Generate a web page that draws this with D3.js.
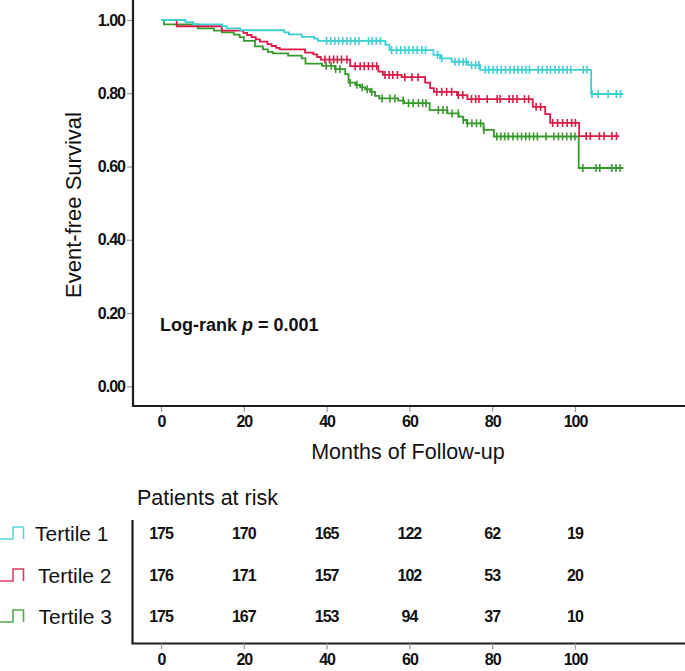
<!DOCTYPE html>
<html><head><meta charset="utf-8">
<script src="https://cdn.jsdelivr.net/npm/d3@7"></script>
<style>
body{margin:0;background:#fff;}
svg{display:block;font-family:"Liberation Sans",Arial,Helvetica,sans-serif;}
</style></head><body>
<svg id="c" width="685" height="671"></svg>
<script>
// ---------- data ----------
const seriesNames = ["Tertile 1", "Tertile 2", "Tertile 3"];
const seriesColors = ["#3ccfd4", "#dc1846", "#379a2c"];
const monthTicks = [0, 20, 40, 60, 80, 100];
const survivalTicks = [0, 0.2, 0.4, 0.6, 0.8, 1.0];

// [month, survival] step points
const tertile1Steps = [[0,1],[5.9,0.994],[7.8,0.988],[14.8,0.983],[15.9,0.977],[19.1,0.972],[29.8,0.966],[30.9,0.961],[34.0,0.954],[37.0,0.949],[37.9,0.943],[54.2,0.932],[55.2,0.918],[65.8,0.905],[67.4,0.895],[70.2,0.886],[74.2,0.877],[77.1,0.864],[103.9,0.798]];
const tertile2Steps = [[0,1],[3.8,0.983],[14.7,0.971],[19.9,0.965],[20.8,0.959],[21.9,0.953],[22.9,0.947],[23.9,0.941],[25.7,0.934],[26.7,0.929],[27.8,0.924],[28.7,0.920],[34.8,0.911],[36.8,0.906],[37.7,0.899],[38.6,0.892],[45.7,0.874],[52.5,0.859],[53.6,0.850],[58.1,0.844],[63.8,0.829],[65.0,0.814],[65.9,0.804],[71.5,0.795],[74.0,0.784],[89.8,0.763],[92.8,0.743],[94.0,0.719],[101.0,0.683]];
const tertile3Steps = [[0,1],[0.7,0.988],[8.9,0.977],[12.8,0.971],[14.7,0.966],[17.6,0.960],[19.0,0.953],[20.0,0.943],[22.7,0.928],[24.6,0.920],[25.8,0.913],[27.0,0.909],[30.7,0.903],[34.0,0.895],[34.9,0.881],[38.9,0.875],[42.0,0.866],[44.5,0.852],[45.3,0.829],[46.9,0.823],[48.1,0.816],[49.3,0.811],[50.5,0.804],[51.7,0.793],[52.7,0.786],[57.3,0.780],[58.7,0.773],[64.9,0.754],[69.2,0.745],[71.9,0.736],[73.0,0.727],[73.8,0.718],[77.9,0.700],[80.4,0.682],[100.9,0.596]];
const followUpEnd = [111.7, 110.7, 111.7];

// censored observations (months)
const tertile1Censored = [40.0,41.0,42.0,42.9,43.9,44.9,45.8,46.9,47.8,50.1,51.0,52.0,53.0,55.7,56.9,57.9,58.9,59.9,60.9,61.9,63.0,63.9,66.8,67.8,71.0,72.0,73.0,73.7,75.0,76.0,76.8,78.3,79.2,80.2,81.2,82.2,83.2,84.3,85.3,86.2,87.2,88.1,89.0,91.1,92.1,93.2,94.1,95.2,96.1,97.1,98.1,99.0,102.0,102.9,104.1,105.6,108.0,110.0,111.0];
const tertile2Censored = [39.6,40.7,41.7,42.6,43.6,44.9,46.9,48.1,49.1,50.1,51.1,52.1,54.1,55.1,56.0,57.1,58.9,60.6,62.1,66.6,67.8,69.0,70.2,71.8,72.9,75.0,76.0,76.8,78.8,81.2,81.9,84.1,85.0,86.0,87.8,88.8,90.6,91.7,94.6,95.8,97.0,98.1,99.2,100.1,102.7,103.7,105.9,107.0,108.9,110.0];
const tertile3Censored = [39.9,41.1,42.2,43.2,45.7,47.3,48.6,49.8,50.9,53.4,55.3,56.5,58.5,59.8,60.9,62.2,63.2,64.0,67.0,68.1,69.1,70.3,71.8,73.0,74.0,75.1,76.2,77.2,78.0,81.1,82.1,83.0,83.9,85.0,86.1,87.1,88.1,89.0,90.0,90.9,93.0,94.9,96.0,97.0,98.0,99.0,100.0,101.9,105.1,106.0,108.9,109.9,110.9];

const atRiskTertile1 = [175, 170, 165, 122, 62, 19];
const atRiskTertile2 = [176, 171, 157, 102, 53, 20];
const atRiskTertile3 = [175, 167, 153, 94, 37, 10];

const yAxisTitle = "Event-free Survival";
const xAxisTitle = "Months of Follow-up";
const riskTitle = "Patients at risk";

// ---------- drawing ----------
const svg = d3.select("#c");
const x = d3.scaleLinear().domain([0, 100]).range([161, 575]);
const y = d3.scaleLinear().domain([0, 1]).range([386.3, 20]);
const axisColor = "#1e1e1e";
const tickColor = "#9a9a9a";
const numFont = 16, numSpacing = "-1";

// y axis
const gy = svg.append("g").attr("transform", "translate(133,0)")
  .call(d3.axisLeft(y).tickValues(survivalTicks).tickFormat(d3.format(".2f")).tickSize(6).tickSizeOuter(0));
gy.select(".domain").remove();
gy.selectAll(".tick line").attr("stroke", tickColor).attr("stroke-width", 1.2);
gy.selectAll(".tick text").attr("x", -8).attr("font-size", numFont).attr("font-weight", "bold")
  .attr("fill", "#111").attr("font-family", "'Liberation Sans',Arial,sans-serif").attr("letter-spacing", numSpacing);

// x axis
const gx = svg.append("g").attr("transform", "translate(0,406)")
  .call(d3.axisBottom(x).tickValues(monthTicks).tickSize(6).tickSizeOuter(0));
gx.select(".domain").remove();
gx.selectAll(".tick line").attr("stroke", tickColor).attr("stroke-width", 1.2);
gx.selectAll(".tick text").attr("y", 10).attr("font-size", numFont).attr("font-weight", "bold")
  .attr("fill", "#111").attr("font-family", "'Liberation Sans',Arial,sans-serif").attr("letter-spacing", numSpacing);

// axis lines
svg.append("path").attr("d", "M133,0V406H685").attr("fill", "none")
  .attr("stroke", axisColor).attr("stroke-width", 2.2);

// titles
svg.append("text").attr("transform", "translate(81,205) rotate(-90)").attr("text-anchor", "middle")
  .attr("font-size", 22).attr("fill", "#111").text(yAxisTitle);
svg.append("text").attr("x", 408).attr("y", 459).attr("text-anchor", "middle")
  .attr("font-size", 21.5).attr("fill", "#111").text(xAxisTitle);

// log-rank text
const lr = svg.append("text").attr("x", 160).attr("y", 331).attr("font-size", 18).attr("font-weight", "bold").attr("fill", "#111");
lr.append("tspan").text("Log-rank ");
lr.append("tspan").attr("font-style", "italic").text("p");
lr.append("tspan").text(" = 0.001");

// curves
const allSteps = [tertile1Steps, tertile2Steps, tertile3Steps];
const allCensored = [tertile1Censored, tertile2Censored, tertile3Censored];
const line = d3.line().x(d => x(d[0])).y(d => y(d[1])).curve(d3.curveStepAfter);
function survAt(steps, t) {
  let s = steps[0][1];
  for (const p of steps) { if (p[0] <= t) s = p[1]; }
  return s;
}
[2, 1, 0].forEach(i => {
  const steps = allSteps[i];
  const pts = steps.concat([[followUpEnd[i], steps[steps.length - 1][1]]]);
  svg.append("path").attr("d", line(pts)).attr("fill", "none")
    .attr("stroke", seriesColors[i]).attr("stroke-width", 1.8);
  svg.append("g").selectAll("line").data(allCensored[i]).join("line")
    .attr("x1", d => x(d)).attr("x2", d => x(d))
    .attr("y1", d => y(survAt(steps, d)) - 4).attr("y2", d => y(survAt(steps, d)) + 4)
    .attr("stroke", seriesColors[i]).attr("stroke-width", 1.6);
});

// risk table
svg.append("text").attr("x", 137).attr("y", 505).attr("font-size", 21.5).attr("fill", "#111").text(riskTitle);
svg.append("path").attr("d", "M132.5,520V643.5H685").attr("fill", "none")
  .attr("stroke", axisColor).attr("stroke-width", 2.2);
const gx2 = svg.append("g").attr("transform", "translate(0,643.5)")
  .call(d3.axisBottom(x).tickValues(monthTicks).tickSize(6).tickSizeOuter(0));
gx2.select(".domain").remove();
gx2.selectAll(".tick line").attr("stroke", tickColor).attr("stroke-width", 1.2);
gx2.selectAll(".tick text").attr("y", 10).attr("font-size", numFont).attr("font-weight", "bold")
  .attr("fill", "#111").attr("font-family", "'Liberation Sans',Arial,sans-serif").attr("letter-spacing", numSpacing);

const rowY = [533, 575, 616];
const labelX = [35, 38, 38.5];
const atRisk = [atRiskTertile1, atRiskTertile2, atRiskTertile3];
atRisk.forEach((row, i) => {
  svg.append("g").selectAll("text").data(row).join("text")
    .attr("x", (d, j) => x(monthTicks[j])).attr("y", rowY[i]).attr("dy", "0.36em")
    .attr("text-anchor", "middle").attr("font-size", numFont).attr("font-weight", "bold")
    .attr("letter-spacing", numSpacing).attr("fill", "#111").text(d => d);
  svg.append("text").attr("x", labelX[i]).attr("y", rowY[i]).attr("dy", "0.36em")
    .attr("font-size", 21).attr("fill", "#111").text(seriesNames[i]);
  svg.append("path")
    .attr("d", `M0,${rowY[i] + 6}H13V${rowY[i] - 6}H23.5V${rowY[i] + 6}`)
    .attr("fill", "none").attr("stroke", seriesColors[i]).attr("stroke-width", 1.6).attr("opacity", 0.85);
});
</script>
</body></html>
